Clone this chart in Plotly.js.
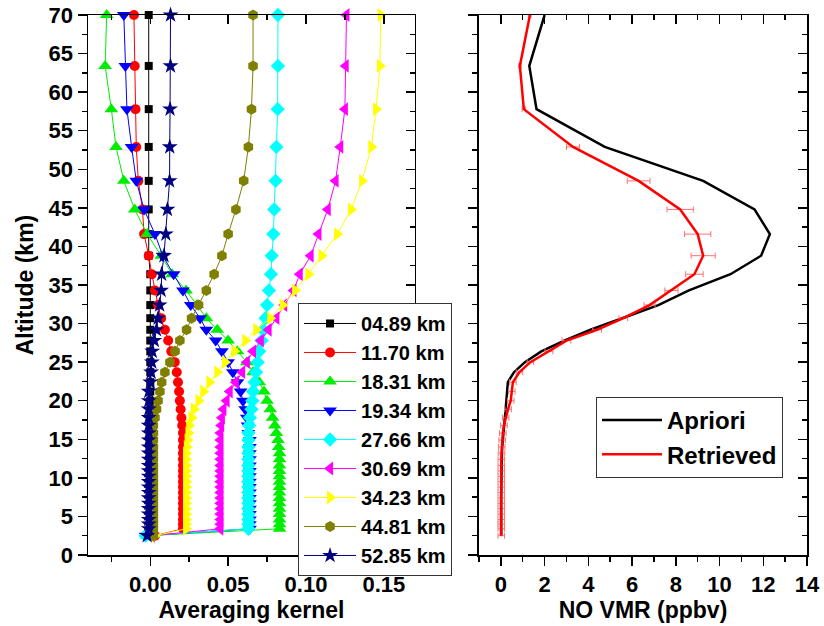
<!DOCTYPE html>
<html>
<head>
<meta charset="utf-8">
<script src="https://cdn.plot.ly/plotly-3.0.1.min.js"></script>
<style>html,body{margin:0;padding:0;background:#fff;}#chart{width:824px;height:626px;}</style>
</head>
<body>
<div id="chart"></div>
<script>
// Altitude grid (km)
const altitude = [70, 63.4, 57.8, 52.9, 48.5, 44.8, 41.6, 38.8, 36.4, 34.3,
  32.4, 30.7, 29.2, 27.8, 26.4, 25.0, 23.7, 22.4, 21.2, 20.0,
  18.9, 17.8, 16.8, 15.8, 14.9, 14.0, 13.2, 12.4, 11.6, 10.9,
  10.2, 9.5, 8.8, 8.1, 7.4, 6.7, 6.0, 5.3, 4.6, 4.0,
  3.4, 2.5];

// Averaging kernel rows (legend labels)
const kernelLabels = ["04.89 km", "11.70 km", "18.31 km", "19.34 km", "27.66 km",
  "30.69 km", "34.23 km", "44.81 km", "52.85 km"];

const ak_04_89 = [-0.001,-0.001,-0.001,-0.001,-0.001,-0.001,-0.001,-0.001,0.000,0.000,
  0.000,0.000,0.000,0.000,0.000,0.000,0.000,0.000,0.000,0.000,
  0.000,0.000,0.000,0.000,0.000,0.000,0.001,0.001,0.001,0.001,
  0.001,0.001,0.002,0.002,0.002,0.002,0.002,0.002,0.002,0.001,
  0.001,0.000];
const ak_11_70 = [-0.0105,-0.010,-0.0095,-0.009,-0.0077,-0.005,-0.004,-0.001,0.001,0.003,
  0.005,0.007,0.0094,0.0115,0.0135,0.0157,0.017,0.0178,0.0185,0.019,
  0.0195,0.020,0.0205,0.021,0.021,0.021,0.021,0.021,0.021,0.021,
  0.021,0.021,0.021,0.021,0.021,0.021,0.021,0.021,0.021,0.021,
  0.021,0.003];
const ak_18_31 = [-0.028,-0.029,-0.025,-0.022,-0.017,-0.010,-0.002,0.007,0.014,0.023,
  0.030,0.036,0.043,0.050,0.056,0.062,0.066,0.070,0.073,0.075,
  0.077,0.0785,0.080,0.081,0.082,0.0825,0.083,0.083,0.083,0.083,
  0.083,0.083,0.083,0.083,0.083,0.083,0.083,0.083,0.083,0.083,
  0.083,-0.002];
const ak_19_34 = [-0.017,-0.016,-0.015,-0.012,-0.009,-0.004,0.003,0.008,0.015,0.021,
  0.026,0.032,0.036,0.042,0.046,0.050,0.053,0.056,0.058,0.0595,
  0.061,0.062,0.0625,0.063,0.064,0.064,0.064,0.064,0.064,0.064,
  0.064,0.064,0.064,0.064,0.064,0.064,0.064,0.064,0.064,0.064,
  0.064,-0.003];
const ak_27_66 = [0.082,0.082,0.0818,0.081,0.0805,0.0796,0.079,0.078,0.0775,0.0762,
  0.075,0.074,0.0725,0.0715,0.070,0.069,0.068,0.067,0.066,0.0655,
  0.065,0.064,0.0635,0.063,0.063,0.063,0.063,0.063,0.063,0.063,
  0.063,0.063,0.063,0.063,0.063,0.063,0.063,0.063,0.063,0.063,
  0.063,-0.003];
const ak_30_69 = [0.126,0.1255,0.125,0.122,0.119,0.114,0.108,0.103,0.096,0.092,
  0.086,0.081,0.076,0.071,0.066,0.062,0.059,0.055,0.051,0.049,
  0.047,0.046,0.0455,0.045,0.045,0.045,0.045,0.045,0.045,0.045,
  0.045,0.045,0.045,0.045,0.045,0.045,0.045,0.045,0.045,0.045,
  0.045,0.001];
const ak_34_23 = [0.148,0.1475,0.145,0.142,0.136,0.129,0.120,0.110,0.1015,0.093,
  0.085,0.077,0.068,0.061,0.054,0.048,0.043,0.038,0.034,0.031,
  0.028,0.0265,0.025,0.0245,0.024,0.0235,0.023,0.023,0.023,0.023,
  0.023,0.023,0.023,0.023,0.023,0.023,0.023,0.023,0.023,0.023,
  0.023,0.003];
const ak_44_81 = [0.066,0.066,0.065,0.063,0.060,0.055,0.050,0.046,0.041,0.036,
  0.031,0.0265,0.0233,0.019,0.0159,0.0126,0.0094,0.0073,0.0062,0.005,
  0.004,0.003,0.002,0.002,0.002,0.002,0.002,0.002,0.002,0.002,
  0.002,0.002,0.002,0.002,0.002,0.002,0.002,0.002,0.002,0.002,
  0.002,0.002];
const ak_52_85 = [0.013,0.013,0.0127,0.0125,0.0124,0.011,0.010,0.0088,0.0073,0.007,
  0.006,0.005,0.004,0.0026,0.0013,0.001,0.0005,0.000,-0.001,-0.001,
  -0.001,-0.001,-0.001,-0.001,-0.001,-0.001,-0.001,-0.001,-0.001,-0.001,
  -0.001,-0.001,-0.001,-0.001,-0.001,-0.001,-0.001,-0.001,-0.001,-0.001,
  -0.001,-0.002];

// NO VMR profiles (ppbv)
const apriori = [2.0,1.3,1.63,4.75,9.25,11.6,12.3,11.9,10.5,8.6,
  7.2,5.5,4.1,2.9,1.85,1.1,0.6,0.32,0.27,0.25,
  0.22,0.18,0.14,0.10,0.08,0.06,0.05,0.04,0.03,0.02,
  0.02,0.02,0.01,0.01,0.01,0.01,0.01,0.01,0.01,0.01,
  0.01,0.01];
const retrieved = [1.33,0.87,1.05,3.3,6.3,8.2,9.0,9.25,8.85,7.8,
  6.8,5.6,4.4,3.0,2.2,1.35,0.85,0.55,0.5,0.45,
  0.33,0.22,0.14,0.09,0.06,0.04,0.03,0.02,0.02,0.02,
  0.02,0.02,0.02,0.02,0.02,0.02,0.02,0.02,0.02,0.02,
  0.02,0.02];
const retrievedErr = [0.05,0.05,0.08,0.3,0.52,0.6,0.6,0.55,0.4,0.3,
  0.25,0.2,0.2,0.2,0.18,0.15,0.15,0.15,0.15,0.15,
  0.15,0.15,0.15,0.15,0.15,0.15,0.15,0.15,0.15,0.15,
  0.15,0.15,0.15,0.15,0.15,0.15,0.15,0.15,0.15,0.15,
  0.15,0.15];

const kernels = [ak_04_89, ak_11_70, ak_18_31, ak_19_34, ak_27_66, ak_30_69, ak_34_23, ak_44_81, ak_52_85];
const colors = ["#000000", "#ff0000", "#00ee00", "#0000ff", "#00ffff", "#ff00ff", "#ffff00", "#808000", "#000080"];
const symbols = ["square", "circle", "triangle-up", "triangle-down", "diamond", "triangle-left", "triangle-right", "hexagon", "star"];
const sizes = [8, 10, 12, 12, 11, 12, 12, 11, 12];

const traces = [];
kernels.forEach((k, i) => {
  traces.push({
    type: "scatter", mode: "lines+markers",
    x: k, y: altitude, name: kernelLabels[i],
    xaxis: "x", yaxis: "y", legend: "legend",
    line: {color: colors[i], width: 1},
    marker: {symbol: symbols[i], color: colors[i], size: sizes[i], line: {width: 0}},
    cliponaxis: false
  });
});
traces.push({
  type: "scatter", mode: "lines", x: apriori, y: altitude, name: "Apriori",
  xaxis: "x2", yaxis: "y2", legend: "legend2",
  line: {color: "#000000", width: 2.5}
});
traces.push({
  type: "scatter", mode: "lines", x: retrieved, y: altitude, name: "Retrieved",
  xaxis: "x2", yaxis: "y2", legend: "legend2",
  line: {color: "#ff0000", width: 2.5},
  error_x: {type: "data", array: retrievedErr, visible: true, color: "#ff7070", thickness: 1, width: 3}
});
// helper traces so mirrored (inside-tick) axes are drawn
traces.push({type: "scatter", x: [], y: [], xaxis: "x3", yaxis: "y", showlegend: false, hoverinfo: "skip"});
traces.push({type: "scatter", x: [], y: [], xaxis: "x", yaxis: "y3", showlegend: false, hoverinfo: "skip"});
traces.push({type: "scatter", x: [], y: [], xaxis: "x4", yaxis: "y2", showlegend: false, hoverinfo: "skip"});
traces.push({type: "scatter", x: [], y: [], xaxis: "x2", yaxis: "y4", showlegend: false, hoverinfo: "skip"});

const FONT = "Arial, 'Liberation Sans', sans-serif";
const tickFont = {family: FONT, size: 22, color: "#000", weight: "bold"};
const titleFont = {family: FONT, size: 23, color: "#000", weight: "bold"};
const xdomL = [0.1068, 0.5036], xdomR = [0.5813, 0.9794], ydom = [0.1134, 0.976];

function baseAxis(extra) {
  return Object.assign({
    showline: true, linecolor: "#000", linewidth: 1.5, showgrid: false, zeroline: false,
    ticks: "outside", ticklen: 9, tickwidth: 1.5, tickcolor: "#000",
    tickfont: tickFont, automargin: false, fixedrange: true
  }, extra);
}

const layout = {
  width: 824, height: 626,
  margin: {l: 0, r: 0, t: 0, b: 0},
  paper_bgcolor: "#fff", plot_bgcolor: "#fff",
  font: {family: FONT, color: "#000"},
  xaxis: baseAxis({domain: xdomL, anchor: "y", range: [-0.04, 0.17], tick0: 0, dtick: 0.05, tickformat: ".2f",
    minor: {tick0: 0, dtick: 0.025, ticks: "outside", ticklen: 5, tickwidth: 1.5, tickcolor: "#000"},
    title: {text: "Averaging kernel", font: titleFont, standoff: 2}}),
  yaxis: baseAxis({domain: ydom, anchor: "x", range: [0, 70], tick0: 0, dtick: 5,
    minor: {tick0: 0, dtick: 2.5, ticks: "outside", ticklen: 5, tickwidth: 1.5, tickcolor: "#000"},
    title: {text: "Altitude (km)", font: titleFont, standoff: 8}}),
  xaxis3: baseAxis({overlaying: "x", side: "top", anchor: "y", range: [-0.04, 0.17], tick0: 0, dtick: 0.05,
    ticks: "inside", showticklabels: false,
    minor: {tick0: 0, dtick: 0.025, ticks: "inside", ticklen: 5, tickwidth: 1.5, tickcolor: "#000"}}),
  yaxis3: baseAxis({overlaying: "y", side: "right", anchor: "x", range: [0, 70], tick0: 0, dtick: 5,
    ticks: "inside", showticklabels: false,
    minor: {tick0: 0, dtick: 2.5, ticks: "inside", ticklen: 5, tickwidth: 1.5, tickcolor: "#000"}}),
  xaxis2: baseAxis({domain: xdomR, anchor: "y2", range: [-1, 14], tick0: 0, dtick: 2,
    minor: {tick0: 0, dtick: 1, ticks: "outside", ticklen: 5, tickwidth: 1.5, tickcolor: "#000"},
    title: {text: "NO VMR (ppbv)", font: titleFont, standoff: 2}}),
  yaxis2: baseAxis({domain: ydom, anchor: "x2", range: [0, 70], tick0: 0, dtick: 5, showticklabels: false,
    minor: {tick0: 0, dtick: 2.5, ticks: "outside", ticklen: 5, tickwidth: 1.5, tickcolor: "#000"}}),
  xaxis4: baseAxis({overlaying: "x2", side: "top", anchor: "y2", range: [-1, 14], tick0: 0, dtick: 2,
    ticks: "inside", showticklabels: false,
    minor: {tick0: 0, dtick: 1, ticks: "inside", ticklen: 5, tickwidth: 1.5, tickcolor: "#000"}}),
  yaxis4: baseAxis({overlaying: "y2", side: "right", anchor: "x2", range: [0, 70], tick0: 0, dtick: 5,
    ticks: "inside", showticklabels: false,
    minor: {tick0: 0, dtick: 2.5, ticks: "inside", ticklen: 5, tickwidth: 1.5, tickcolor: "#000"}}),
  legend: {x: 0.3617, y: 0.516, xanchor: "left", yanchor: "top", bgcolor: "#fff",
    bordercolor: "#333", borderwidth: 1, itemwidth: 52,
    font: {family: FONT, size: 20, color: "#000", weight: "bold"}},
  legend2: {x: 0.7233, y: 0.3658, xanchor: "left", yanchor: "top", bgcolor: "#fff",
    bordercolor: "#333", borderwidth: 1, itemwidth: 60,
    font: {family: FONT, size: 24, color: "#000", weight: "bold"}},
  showlegend: true
};

Plotly.newPlot("chart", traces, layout, {staticPlot: true, displayModeBar: false});
</script>
</body>
</html>
